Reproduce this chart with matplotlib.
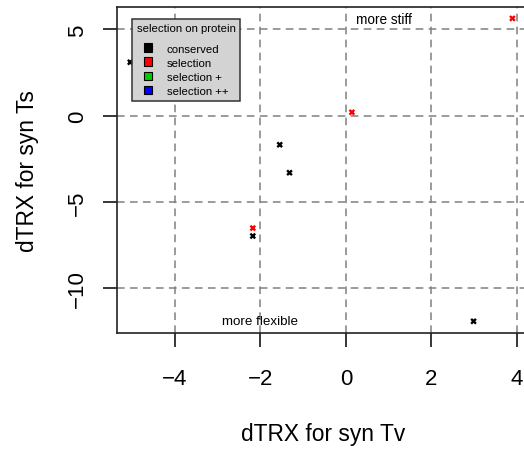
import matplotlib
matplotlib.use("Agg")
import matplotlib.pyplot as plt
from matplotlib.patches import Patch

plt.rcParams['font.family'] = ['Liberation Sans', 'DejaVu Sans']

# values
tv = [-5.05, 3.90, 0.14, -1.55, -1.32, -2.18, -2.18, 2.99]
ts = [3.10, 5.64, 0.20, -1.68, -3.30, -6.51, -6.97, -11.91]
groups = ['conserved', 'selection', 'selection', 'conserved', 'conserved',
          'selection', 'conserved', 'conserved']

legend_labels = ['conserved', 'selection', 'selection +', 'selection ++']
legend_cols = ['black', 'red', '#00cc00', 'blue']
colmap = dict(zip(legend_labels, legend_cols))

xticks = [-4, -2, 0, 2, 4]
yticks = [-10, -5, 0, 5]

fig = plt.figure(figsize=(5.24, 4.52), dpi=100)
ax = fig.add_axes([0.2233, 0.261, 0.788, 0.7224])
ax.set_xlim(-5.36, 4.31)
ax.set_ylim(-12.59, 6.33)

# dashed grid at ticks
for x in xticks:
    ax.axvline(x, color='#808080', lw=1.1, dashes=(5, 3.5), zorder=1)
for y in yticks:
    ax.axhline(y, color='#808080', lw=1.1, dashes=(5, 3.5), zorder=1)

ax.scatter(tv, ts, c=[colmap[g] for g in groups], marker='x', s=12,
           linewidths=1.7, zorder=3)

ax.text(0.9, 5.6, 'more stiff', fontsize=9.8, ha='center', va='center', zorder=4)
ax.text(-2.0, -11.9, 'more flexible', fontsize=9.6, ha='center', va='center', zorder=4)

ax.set_xticks(xticks)
ax.set_yticks(yticks)
ax.set_xticklabels([str(v).replace('-', '\u2212') for v in xticks])
ax.set_yticklabels([str(v).replace('-', '\u2212') for v in yticks],
                   rotation=90, va='center')
ax.tick_params(length=10, width=1.1, labelsize=16)
ax.tick_params(axis='x', pad=15)
ax.tick_params(axis='y', pad=11)

for s in ax.spines.values():
    s.set_linewidth(1.2)
    s.set_color('#222222')

ax.set_xlabel('dTRX for syn Tv', fontsize=16.4, labelpad=24)
ax.set_ylabel('dTRX for syn Ts', fontsize=16.4, labelpad=20)

handles = [Patch(facecolor=c, edgecolor='black', linewidth=0.8) for c in legend_cols]
leg = ax.legend(handles, legend_labels, title='selection on protein',
                loc='upper left', bbox_to_anchor=(0.0363, 0.962),
                fontsize=8.2, title_fontsize=8.2, frameon=True, fancybox=False,
                facecolor='#d3d3d3', edgecolor='#333333', framealpha=1,
                handlelength=0.75, handleheight=0.8, handletextpad=1.3,
                labelspacing=0.34, borderpad=0.4, borderaxespad=0)
leg._legend_box.sep = 7
leg.get_frame().set_linewidth(1.1)
leg.set_zorder(5)

fig.savefig('out.png', dpi=100)
